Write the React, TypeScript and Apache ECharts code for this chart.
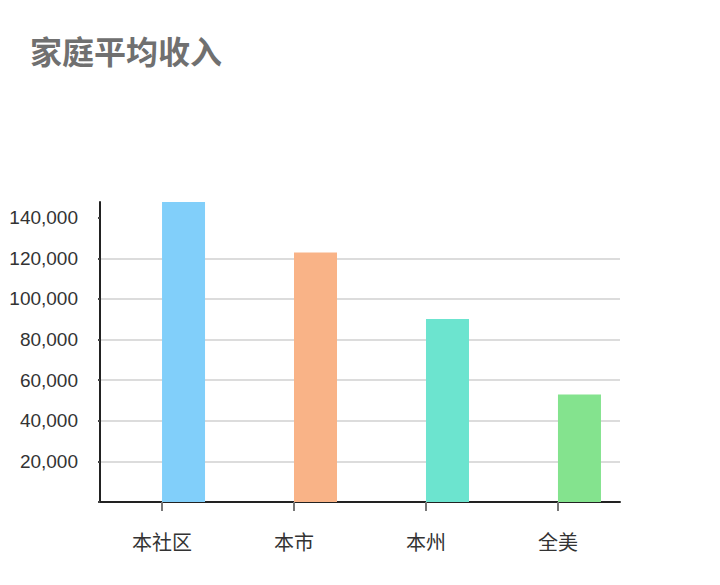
import { useEffect, useRef } from 'react';
import * as echarts from 'echarts';

// 数据
const categories = ['本社区', '本市', '本州', '全美'];
const incomes = [147700, 122800, 90100, 52900];
const barColors = ['#81cffa', '#f9b387', '#6ce4cf', '#84e38e'];
const yTicks = [0, 20000, 40000, 60000, 80000, 100000, 120000, 140000];

const fmt = (v: number) => v.toLocaleString('en-US');

const App: React.FC = () => {
  const chartRef = useRef<HTMLDivElement>(null);

  useEffect(() => {
    if (!chartRef.current) return;
    const chart = echarts.init(chartRef.current, null, { renderer: 'svg' });

    const positions = categories.map((_, i) => i);

    const option = {
      animation: false,
      title: {
        text: '家庭平均收入',
        left: 30,
        top: 34,
        padding: 0,
        textStyle: {
          fontFamily: 'Noto Sans CJK SC',
          fontSize: 32,
          fontWeight: 'bold',
          color: '#707070',
        },
      },
      grid: [
        // 柱子、y 轴、网格线
        { left: 100, right: 100, top: 202, bottom: 83 },
        // 类目刻度和标签（每格 132px）
        { left: 96, right: 96, top: 202, bottom: 83 },
      ],
      xAxis: [
        {
          type: 'value',
          gridIndex: 0,
          // 刻度两侧各留出约 0.47 个间隔
          min: -0.47,
          max: categories.length - 1 + 0.47,
          axisLine: { show: true, onZero: false, lineStyle: { color: '#222', width: 2 } },
          axisTick: { show: false },
          axisLabel: { show: false },
          splitLine: { show: false },
        },
        {
          type: 'category',
          gridIndex: 1,
          data: categories,
          boundaryGap: true,
          axisLine: { show: false },
          axisTick: {
            show: true,
            alignWithLabel: true,
            length: 9,
            lineStyle: { color: '#777', width: 2 },
          },
          axisLabel: {
            margin: 29,
            fontFamily: 'Noto Sans CJK SC',
            fontSize: 20,
            color: '#333',
          },
          splitLine: { show: false },
        },
      ],
      yAxis: [
        {
          type: 'value',
          gridIndex: 0,
          min: 0,
          max: 'dataMax',
          axisLine: { show: true, onZero: false, lineStyle: { color: '#222', width: 2 } },
          axisTick: {
            show: true,
            customValues: yTicks,
            length: 2,
            lineStyle: { color: '#444', width: 2 },
          },
          axisLabel: {
            customValues: yTicks.slice(1),
            margin: 22,
            fontFamily: 'Liberation Sans',
            fontSize: 19,
            color: '#333',
            formatter: (v: number) => fmt(v),
          },
          splitLine: {
            show: true,
            showMinLine: false,
            showMaxLine: false,
            lineStyle: { color: '#dcdcdc', width: 2 },
          },
        },
        {
          type: 'value',
          gridIndex: 1,
          show: false,
        },
      ],
      series: [
        {
          // 占位系列，让实际柱子从刻度处开始
          type: 'bar',
          silent: true,
          xAxisIndex: 0,
          yAxisIndex: 0,
          barWidth: 43,
          barGap: '0%',
          itemStyle: { color: 'rgba(0,0,0,0)' },
          data: positions.map((p) => [p, 0]),
        },
        {
          type: 'bar',
          name: '家庭平均收入',
          xAxisIndex: 0,
          yAxisIndex: 0,
          barWidth: 43,
          barGap: '0%',
          data: positions.map((p, i) => ({
            value: [p, incomes[i]],
            itemStyle: { color: barColors[i] },
          })),
        },
      ],
    };

    chart.setOption(option);

    return () => {
      chart.dispose();
    };
  }, []);

  return <div ref={chartRef} style={{ width: 720, height: 585, margin: -8 }} />;
};

export default App;
